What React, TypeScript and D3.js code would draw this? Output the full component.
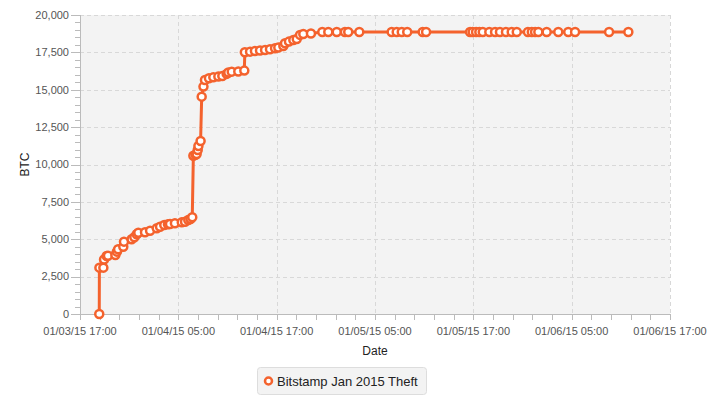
import React from "react";
import * as d3 from "d3";

const times: string[] = [
  "2015-01-03 19:21", "2015-01-03 19:22", "2015-01-03 19:51", "2015-01-03 19:56", "2015-01-03 20:15",
  "2015-01-03 20:25", "2015-01-03 21:19", "2015-01-03 21:30", "2015-01-03 21:39", "2015-01-03 22:17",
  "2015-01-03 22:22", "2015-01-03 23:18", "2015-01-03 23:38", "2015-01-03 23:55", "2015-01-04 00:07",
  "2015-01-04 00:56", "2015-01-04 01:33", "2015-01-04 02:22", "2015-01-04 02:46", "2015-01-04 03:17",
  "2015-01-04 03:44", "2015-01-04 03:59", "2015-01-04 04:35", "2015-01-04 05:25", "2015-01-04 05:49",
  "2015-01-04 06:13", "2015-01-04 06:29", "2015-01-04 06:42", "2015-01-04 06:50", "2015-01-04 07:06",
  "2015-01-04 07:14", "2015-01-04 07:22", "2015-01-04 07:27", "2015-01-04 07:43", "2015-01-04 07:51",
  "2015-01-04 08:04", "2015-01-04 08:15", "2015-01-04 08:44", "2015-01-04 09:16", "2015-01-04 09:53",
  "2015-01-04 10:22", "2015-01-04 10:54", "2015-01-04 11:06", "2015-01-04 11:31", "2015-01-04 12:19",
  "2015-01-04 13:03", "2015-01-04 13:07", "2015-01-04 13:45", "2015-01-04 14:21", "2015-01-04 14:58",
  "2015-01-04 15:35", "2015-01-04 16:11", "2015-01-04 16:48", "2015-01-04 17:12", "2015-01-04 17:49",
  "2015-01-04 18:01", "2015-01-04 18:30", "2015-01-04 19:02", "2015-01-04 19:27", "2015-01-04 19:51",
  "2015-01-04 20:15", "2015-01-04 21:11", "2015-01-04 22:34", "2015-01-04 23:18", "2015-01-05 00:20",
  "2015-01-05 01:20", "2015-01-05 01:44", "2015-01-05 03:05", "2015-01-05 07:02", "2015-01-05 07:39",
  "2015-01-05 08:16", "2015-01-05 08:56", "2015-01-05 10:49", "2015-01-05 11:14", "2015-01-05 16:36",
  "2015-01-05 16:55", "2015-01-05 17:20", "2015-01-05 17:44", "2015-01-05 18:09", "2015-01-05 18:57",
  "2015-01-05 19:39", "2015-01-05 20:15", "2015-01-05 20:59", "2015-01-05 21:41", "2015-01-05 22:18",
  "2015-01-05 23:40", "2015-01-06 00:08", "2015-01-06 00:32", "2015-01-06 00:56", "2015-01-06 01:57",
  "2015-01-06 03:22", "2015-01-06 04:35", "2015-01-06 05:25", "2015-01-06 09:34", "2015-01-06 11:55",
];

const btc: number[] = [
  0, 3100, 3100, 3650, 3880,
  3900, 3950, 4170, 4330, 4500,
  4840, 5000, 5130, 5330, 5440,
  5470, 5570, 5730, 5840, 5950,
  6000, 6020, 6070, 6130, 6170,
  6290, 6350, 6470, 10590, 10650,
  10700, 10970, 11240, 11570, 14540,
  15210, 15650, 15770, 15830, 15880,
  15920, 16060, 16150, 16210, 16220,
  16280, 17510, 17550, 17590, 17620,
  17660, 17710, 17780, 17820, 17930,
  18110, 18220, 18330, 18400, 18670,
  18730, 18760, 18866, 18866, 18866,
  18866, 18866, 18866, 18866, 18866,
  18866, 18866, 18866, 18866, 18866,
  18866, 18866, 18866, 18866, 18866,
  18866, 18866, 18866, 18866, 18866,
  18866, 18866, 18866, 18866, 18866,
  18866, 18866, 18866, 18866, 18866,
];

const seriesName = "Bitstamp Jan 2015 Theft";
const xDomain: string[] = ["2015-01-03 17:00", "2015-01-06 17:00"];
const yDomain: number[] = [0, 20000];
const yMajorTicks: number[] = [0, 2500, 5000, 7500, 10000, 12500, 15000, 17500, 20000];

const W = 708;
const H = 400;
const M = { left: 80, right: 38, top: 15, bottom: 86 };
const COLOR = "#f4622d";
const FONT = "'Liberation Sans', Arial, Helvetica, sans-serif";

export default function App() {
  const parse = d3.timeParse("%Y-%m-%d %H:%M");
  const fmt = d3.timeFormat("%m/%d/%y %H:%M");
  const data = times.map((t, i) => ({ t: parse(t) as Date, v: btc[i] }));
  const start = parse(xDomain[0]) as Date;
  const end = parse(xDomain[1]) as Date;

  const x = d3.scaleTime().domain([start, end]).range([M.left, W - M.right]);
  const y = d3.scaleLinear().domain(yDomain).range([H - M.bottom, M.top]);

  const xMajor = d3.range(0, 7).map((i) => d3.timeHour.offset(start, 12 * i));
  const xMinor = d3.range(0, 31).map((i) => d3.timeMinute.offset(start, 144 * i));
  const yMinor = d3.range(0, 20001, 500);

  const line = d3
    .line<{ t: Date; v: number }>()
    .x((d) => x(d.t))
    .y((d) => y(d.v));

  const x0 = M.left;
  const x1 = W - M.right;
  const y0 = H - M.bottom;
  const y1 = M.top;
  const fmtN = d3.format(",");

  return (
    <svg width={W} height={H} style={{ position: "absolute", left: 0, top: 0, fontFamily: FONT }}>
      <rect x={x0} y={y1} width={x1 - x0} height={y0 - y1} fill="#f3f3f3" />
      {/* grid */}
      {yMajorTicks.map((v) => (
        <line key={"gy" + v} x1={x0} x2={x1} y1={Math.round(y(v)) + 0.5} y2={Math.round(y(v)) + 0.5}
          stroke="#d8d8d8" strokeDasharray="4,3" />
      ))}
      {xMajor.slice(1).map((d, i) => (
        <line key={"gx" + i} x1={Math.round(x(d)) + 0.5} x2={Math.round(x(d)) + 0.5} y1={y1} y2={y0}
          stroke="#d8d8d8" strokeDasharray="4,3" />
      ))}
      {/* y axis */}
      <line x1={x0 + 0.5} x2={x0 + 0.5} y1={y1} y2={y0} stroke="#bbb" />
      {yMinor.map((v) => (
        <line key={"ym" + v} x1={x0 - (v % 2500 === 0 ? 9 : 5)} x2={x0} y1={Math.round(y(v)) + 0.5}
          y2={Math.round(y(v)) + 0.5} stroke="#bbb" />
      ))}
      {yMajorTicks.map((v) => (
        <text key={"yl" + v} x={x0 - 11} y={y(v)} dy="0.35em" textAnchor="end" fontSize={11} fill="#555">
          {fmtN(v)}
        </text>
      ))}
      {/* x axis */}
      <line x1={x0} x2={x1} y1={y0 + 0.5} y2={y0 + 0.5} stroke="#bbb" />
      {xMinor.map((d, i) => (
        <line key={"xm" + i} x1={Math.round(x(d)) + 0.5} x2={Math.round(x(d)) + 0.5} y1={y0} y2={y0 + 6}
          stroke="#bbb" />
      ))}
      {xMajor.map((d, i) => (
        <text key={"xl" + i} x={x(d)} y={y0 + 17} dy="0.35em" textAnchor="middle" fontSize={11} fill="#555">
          {fmt(d)}
        </text>
      ))}
      {/* axis titles */}
      <text x={(x0 + x1) / 2} y={351} dy="0.35em" textAnchor="middle" fontSize={12} fill="#222">Date</text>
      <text transform={`translate(25,${(y0 + y1) / 2}) rotate(-90)`} dy="0.35em" textAnchor="middle"
        fontSize={12} fill="#222">BTC</text>
      {/* series */}
      <path d={line(data) || ""} fill="none" stroke={COLOR} strokeWidth={3} />
      {data.map((d, i) => (
        <circle key={"p" + i} cx={x(d.t)} cy={y(d.v)} r={4} fill="#fff" stroke={COLOR} strokeWidth={2.5} />
      ))}
      {/* legend */}
      <rect x={257.5} y={367.5} width={169} height={27} rx={3} fill="#f3f3f3" stroke="#ddd" />
      <circle cx={268.5} cy={381} r={3.5} fill="#fff" stroke={COLOR} strokeWidth={2.5} />
      <text x={277} y={381} dy="0.35em" fontSize={13} fill="#222">{seriesName}</text>
    </svg>
  );
}
